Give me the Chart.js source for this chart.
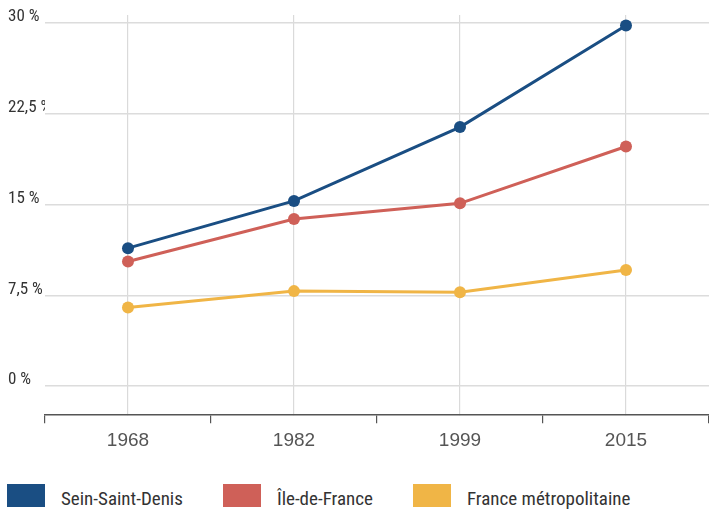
<!DOCTYPE html>
<html>
<head>
<meta charset="utf-8">
<script src="https://cdn.jsdelivr.net/npm/chart.js@4/dist/chart.umd.min.js"></script>
<style>
  html, body { margin: 0; padding: 0; background: #fff; overflow: hidden; }
  #wrap { position: relative; width: 709px; height: 509px; overflow: hidden; }
  #chart { position: absolute; left: 0; top: 0; }
  #legend { position: absolute; left: 7px; top: 484px; display: flex; align-items: flex-end; white-space: nowrap;
    font-family: "Roboto Condensed", sans-serif; font-size: 19px; color: #333; }
  .legend-item { display: flex; align-items: flex-end; margin-right: 40px; }
  .legend-color { width: 38px; height: 23px; margin-right: 16px; flex: none; }
  .legend-item span { line-height: 20px; position: relative; top: 2px; }
</style>
</head>
<body>
<div id="wrap">
  <canvas id="chart" width="709" height="458"></canvas>
  <div id="legend"></div>
</div>
<script>
// Part de la population (%) par année de recensement
const years = ['1968', '1982', '1999', '2015'];
const seineSaintDenis = [11.4, 15.3, 21.4, 29.8];
const ileDeFrance = [10.3, 13.8, 15.1, 19.8];
const franceMetro = [6.5, 7.85, 7.75, 9.6];
const yTicks = [0, 7.5, 15, 22.5, 30];

const seriesNames = ['Sein-Saint-Denis', 'Île-de-France', 'France métropolitaine'];
const seriesColors = ['#1a4e83', '#cf6058', '#f0b546'];

function makeSet(i, values) {
  return {
    label: seriesNames[i],
    data: values,
    borderColor: seriesColors[i],
    backgroundColor: seriesColors[i],
    borderWidth: 3,
    pointRadius: 6,
    pointHoverRadius: 6,
    pointBorderWidth: 0,
    tension: 0
  };
}

// no side padding on the x axes, plot runs to the right edge
function noSidePadding(scale) {
  scale.paddingLeft = 0;
  scale.paddingRight = 0;
}

// HTML legend
document.getElementById('legend').innerHTML = seriesNames.map((n, i) =>
  `<div class="legend-item"><div class="legend-color" style="background:${seriesColors[i]}"></div><span>${n}</span></div>`
).join('');

new Chart(document.getElementById('chart').getContext('2d'), {
  type: 'line',
  data: {
    labels: years,
    datasets: [makeSet(0, seineSaintDenis), makeSet(1, ileDeFrance), makeSet(2, franceMetro)]
  },
  options: {
    responsive: false,
    animation: false,
    devicePixelRatio: 1,
    layout: { autoPadding: false, padding: { left: 8, top: 15, right: 0, bottom: 0 } },
    plugins: {
      legend: { display: false },
      tooltip: { enabled: false }
    },
    scales: {
      x: {
        type: 'category',
        position: 'bottom',
        offset: true,
        afterFit: noSidePadding,
        grid: { offset: true, drawOnChartArea: false, drawTicks: true, tickLength: 8, color: '#555', lineWidth: 1.2 },
        border: { display: true, color: '#555', width: 1.5 },
        ticks: { color: '#555', padding: 6, font: { family: '"Liberation Sans"', size: 19 } }
      },
      xTop: {
        type: 'category',
        position: 'top',
        offset: true,
        afterFit: noSidePadding,
        grid: { offset: false, drawOnChartArea: true, drawTicks: false, color: '#dadada', lineWidth: 1.2 },
        border: { display: false },
        ticks: { display: false }
      },
      y: {
        min: -2.4,
        max: 30.66,
        afterBuildTicks: (scale) => { scale.ticks = yTicks.map(v => ({ value: v })); },
        afterFit: (scale) => { scale.width = 37; },
        grid: { drawTicks: false, color: '#dcdcdc', lineWidth: 1.5 },
        border: { display: false },
        ticks: {
          crossAlign: 'far',
          labelOffset: -6,
          color: '#333',
          font: { family: '"Roboto Condensed"', size: 17 },
          callback: (v) => String(v).replace('.', ',') + ' %'
        }
      }
    }
  }
});
</script>
</body>
</html>
